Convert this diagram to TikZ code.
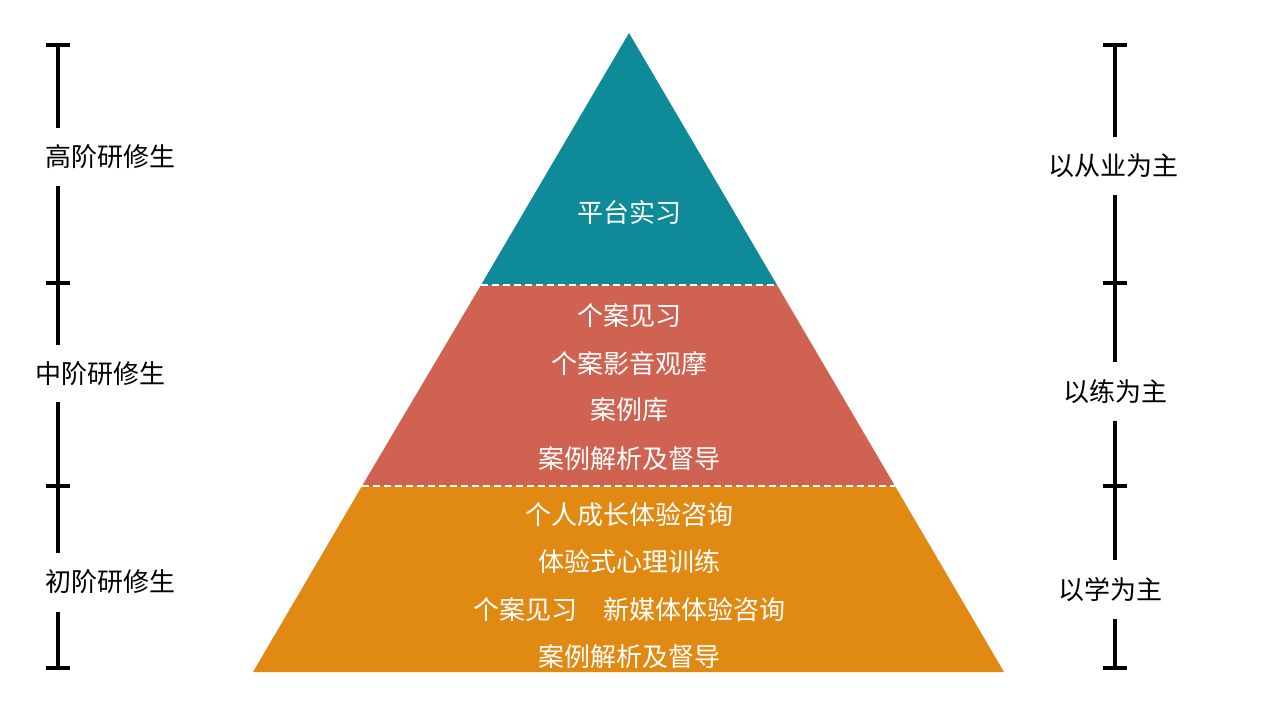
\documentclass[tikz,border=0pt]{standalone}
\usepackage{fontspec}
\setmainfont{Noto Sans CJK SC}
\definecolor{teal1}{HTML}{0E8A98}
\definecolor{red1}{HTML}{CF6250}
\definecolor{org1}{HTML}{E08A14}
\begin{document}
\begin{tikzpicture}[x=1pt,y=-1pt,
  wt/.style={text=white,font=\fontsize{26}{30}\selectfont,inner sep=0},
  bt/.style={text=black,font=\fontsize{26}{30}\selectfont,inner sep=0},
  bar/.style={line width=4pt,black}]
\useasboundingbox (0,0) rectangle (1280,720);
\fill[white] (0,0) rectangle (1280,720);
\coordinate (A) at (629,33);
\fill[teal1] (A) -- (777,285) -- (481,285) -- cycle;
\fill[red1] (481,285) -- (777,285) -- (895,486) -- (362,486) -- cycle;
\fill[org1] (362,486) -- (895,486) -- (1004,672) -- (253,672) -- cycle;
\draw[white,line width=2.5pt,dash pattern=on 7pt off 4pt] (481,285) -- (777,285);
\draw[white,line width=2.5pt,dash pattern=on 7pt off 4pt] (362,486) -- (895,486);
\node[wt] (t1) at (629,213) {平台实习};
\node[wt] (m1) at (629,316) {个案见习};
\node[wt] (m2) at (629,364) {个案影音观摩};
\node[wt] (m3) at (629,410) {案例库};
\node[wt] (m4) at (629,459) {案例解析及督导};
\node[wt] (b1) at (629,515) {个人成长体验咨询};
\node[wt] (b2) at (629,562) {体验式心理训练};
\node[wt] (b3) at (629,610) {个案见习\quad 新媒体体验咨询};
\node[wt] (b4) at (629,657) {案例解析及督导};
% left scale
\foreach \y in {45,283,486,668} \draw[bar] (46,\y) -- (70,\y);
\draw[bar] (58,45) -- (58,128); \draw[bar] (58,186) -- (58,345);
\draw[bar] (58,402) -- (58,553); \draw[bar] (58,612) -- (58,668);
\node[bt] (l1) at (110,157) {高阶研修生};
\node[bt] (l2) at (100,374) {中阶研修生};
\node[bt] (l3) at (110,582) {初阶研修生};
% right scale
\foreach \y in {45,283,486,668} \draw[bar] (1103,\y) -- (1127,\y);
\draw[bar] (1115,45) -- (1115,137); \draw[bar] (1115,195) -- (1115,362);
\draw[bar] (1115,421) -- (1115,560); \draw[bar] (1115,619) -- (1115,668);
\node[bt] (r1) at (1113,166) {以从业为主};
\node[bt] (r2) at (1115,392) {以练为主};
\node[bt] (r3) at (1110,590) {以学为主};
\end{tikzpicture}
\end{document}
